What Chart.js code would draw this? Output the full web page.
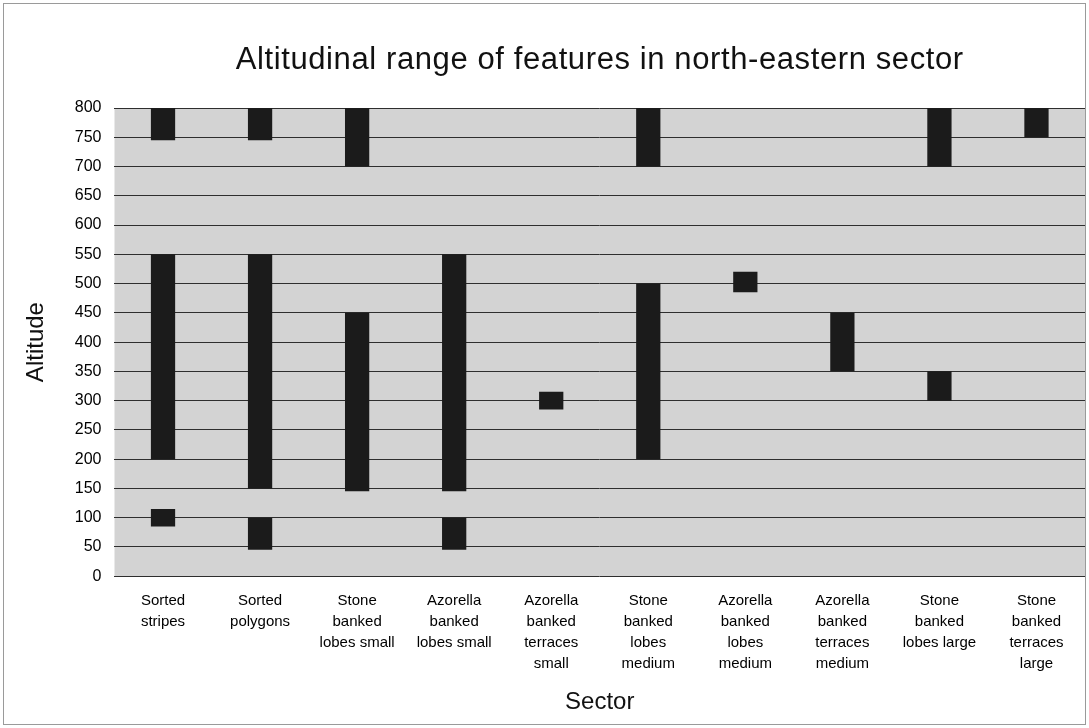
<!DOCTYPE html>
<html>
<head>
<meta charset="utf-8">
<script src="https://cdn.jsdelivr.net/npm/chart.js@4/dist/chart.umd.min.js"></script>
<style>
html,body{margin:0;padding:0;background:#fff;}
#wrap{width:1089px;height:728px;position:relative;}
canvas{display:block;}
</style>
</head>
<body>
<div id="wrap"><canvas id="c" width="1089" height="728"></canvas></div>
<script>
const titleText = 'Altitudinal range of features in north-eastern sector';
const categories = [
  ["Sorted","stripes"],
  ["Sorted","polygons"],
  ["Stone","banked","lobes small"],
  ["Azorella","banked","lobes small"],
  ["Azorella","banked","terraces","small"],
  ["Stone","banked","lobes","medium"],
  ["Azorella","banked","lobes","medium"],
  ["Azorella","banked","terraces","medium"],
  ["Stone","banked","lobes large"],
  ["Stone","banked","terraces","large"]
];
// upper altitude ranges [low, high]
const upperRange = [[745,800],[745,800],[700,800],null,null,[700,800],null,null,[700,800],[750,800]];
// middle altitude ranges
const middleRange = [[200,550],[150,550],[145,450],[145,550],[285,315],[200,500],[485,520],[350,450],[300,350],null];
// lower altitude ranges
const lowerRange = [[85,115],[45,100],null,[45,100],null,null,null,null,null,null];
const yTicks = [0,50,100,150,200,250,300,350,400,450,500,550,600,650,700,750,800];

const barColor = '#1b1b1b';
const canvas = document.getElementById('c');
const baseCtx = canvas.getContext('2d');
baseCtx.letterSpacing = '1px';

const plotBg = {
  id:'plotBg',
  beforeDraw(chart){
    const {ctx, chartArea:a} = chart;
    ctx.save();
    ctx.fillStyle = '#ffffff';
    ctx.fillRect(0,0,chart.width,chart.height);
    ctx.strokeStyle = '#9a9a9a';
    ctx.lineWidth = 1;
    ctx.strokeRect(3.5,3.5,chart.width-7,chart.height-7);
    ctx.fillStyle = '#d3d3d3';
    ctx.fillRect(a.left,a.top,a.right-a.left,a.bottom-a.top);
    ctx.restore();
  },
  afterDraw(chart){
    const {ctx, chartArea:a} = chart;
    ctx.save();
    ctx.fillStyle = '#111';
    ctx.font = '31px "Liberation Sans", Arial';
    ctx.letterSpacing = '0.6px';
    ctx.textAlign = 'center';
    ctx.textBaseline = 'middle';
    ctx.fillText(titleText, (a.left + a.right)/2, 60);
    ctx.restore();
  }
};
function ds(label, data){
  return {label, data, backgroundColor:barColor, borderWidth:0, grouped:false,
          barPercentage:0.25, categoryPercentage:1.0};
}
new Chart(canvas, {
  type:'bar',
  data:{
    labels:categories,
    datasets:[ds('Upper',upperRange), ds('Middle',middleRange), ds('Lower',lowerRange)]
  },
  options:{
    responsive:false,
    animation:false,
    layout:{padding:{left:22,right:4,top:108,bottom:11}},
    plugins:{
      legend:{display:false},
      tooltip:{enabled:false},
      title:{display:false}
    },
    scales:{
      x:{
        grid:{display:false, drawTicks:false},
        border:{display:false},
        ticks:{color:'#000', maxRotation:0, autoSkip:false, padding:14,
          font:{family:'Liberation Sans, Arial', size:15, lineHeight:1.4}},
        title:{display:true, text:'Sector', color:'#111', padding:{top:0,bottom:0},
          font:{family:'Liberation Sans, Arial', size:24}}
      },
      y:{
        min:0, max:800,
        afterBuildTicks(axis){ axis.ticks = yTicks.map(v=>({value:v})); },
        grid:{color:'#2e2e2e', lineWidth:1, drawTicks:false},
        border:{display:false},
        ticks:{color:'#000', padding:13, font:{family:'Liberation Sans, Arial', size:16}},
        title:{display:true, text:'Altitude', color:'#111', padding:{top:0,bottom:11},
          font:{family:'Liberation Sans, Arial', size:24}}
      }
    }
  },
  plugins:[plotBg]
});
</script>
</body>
</html>
